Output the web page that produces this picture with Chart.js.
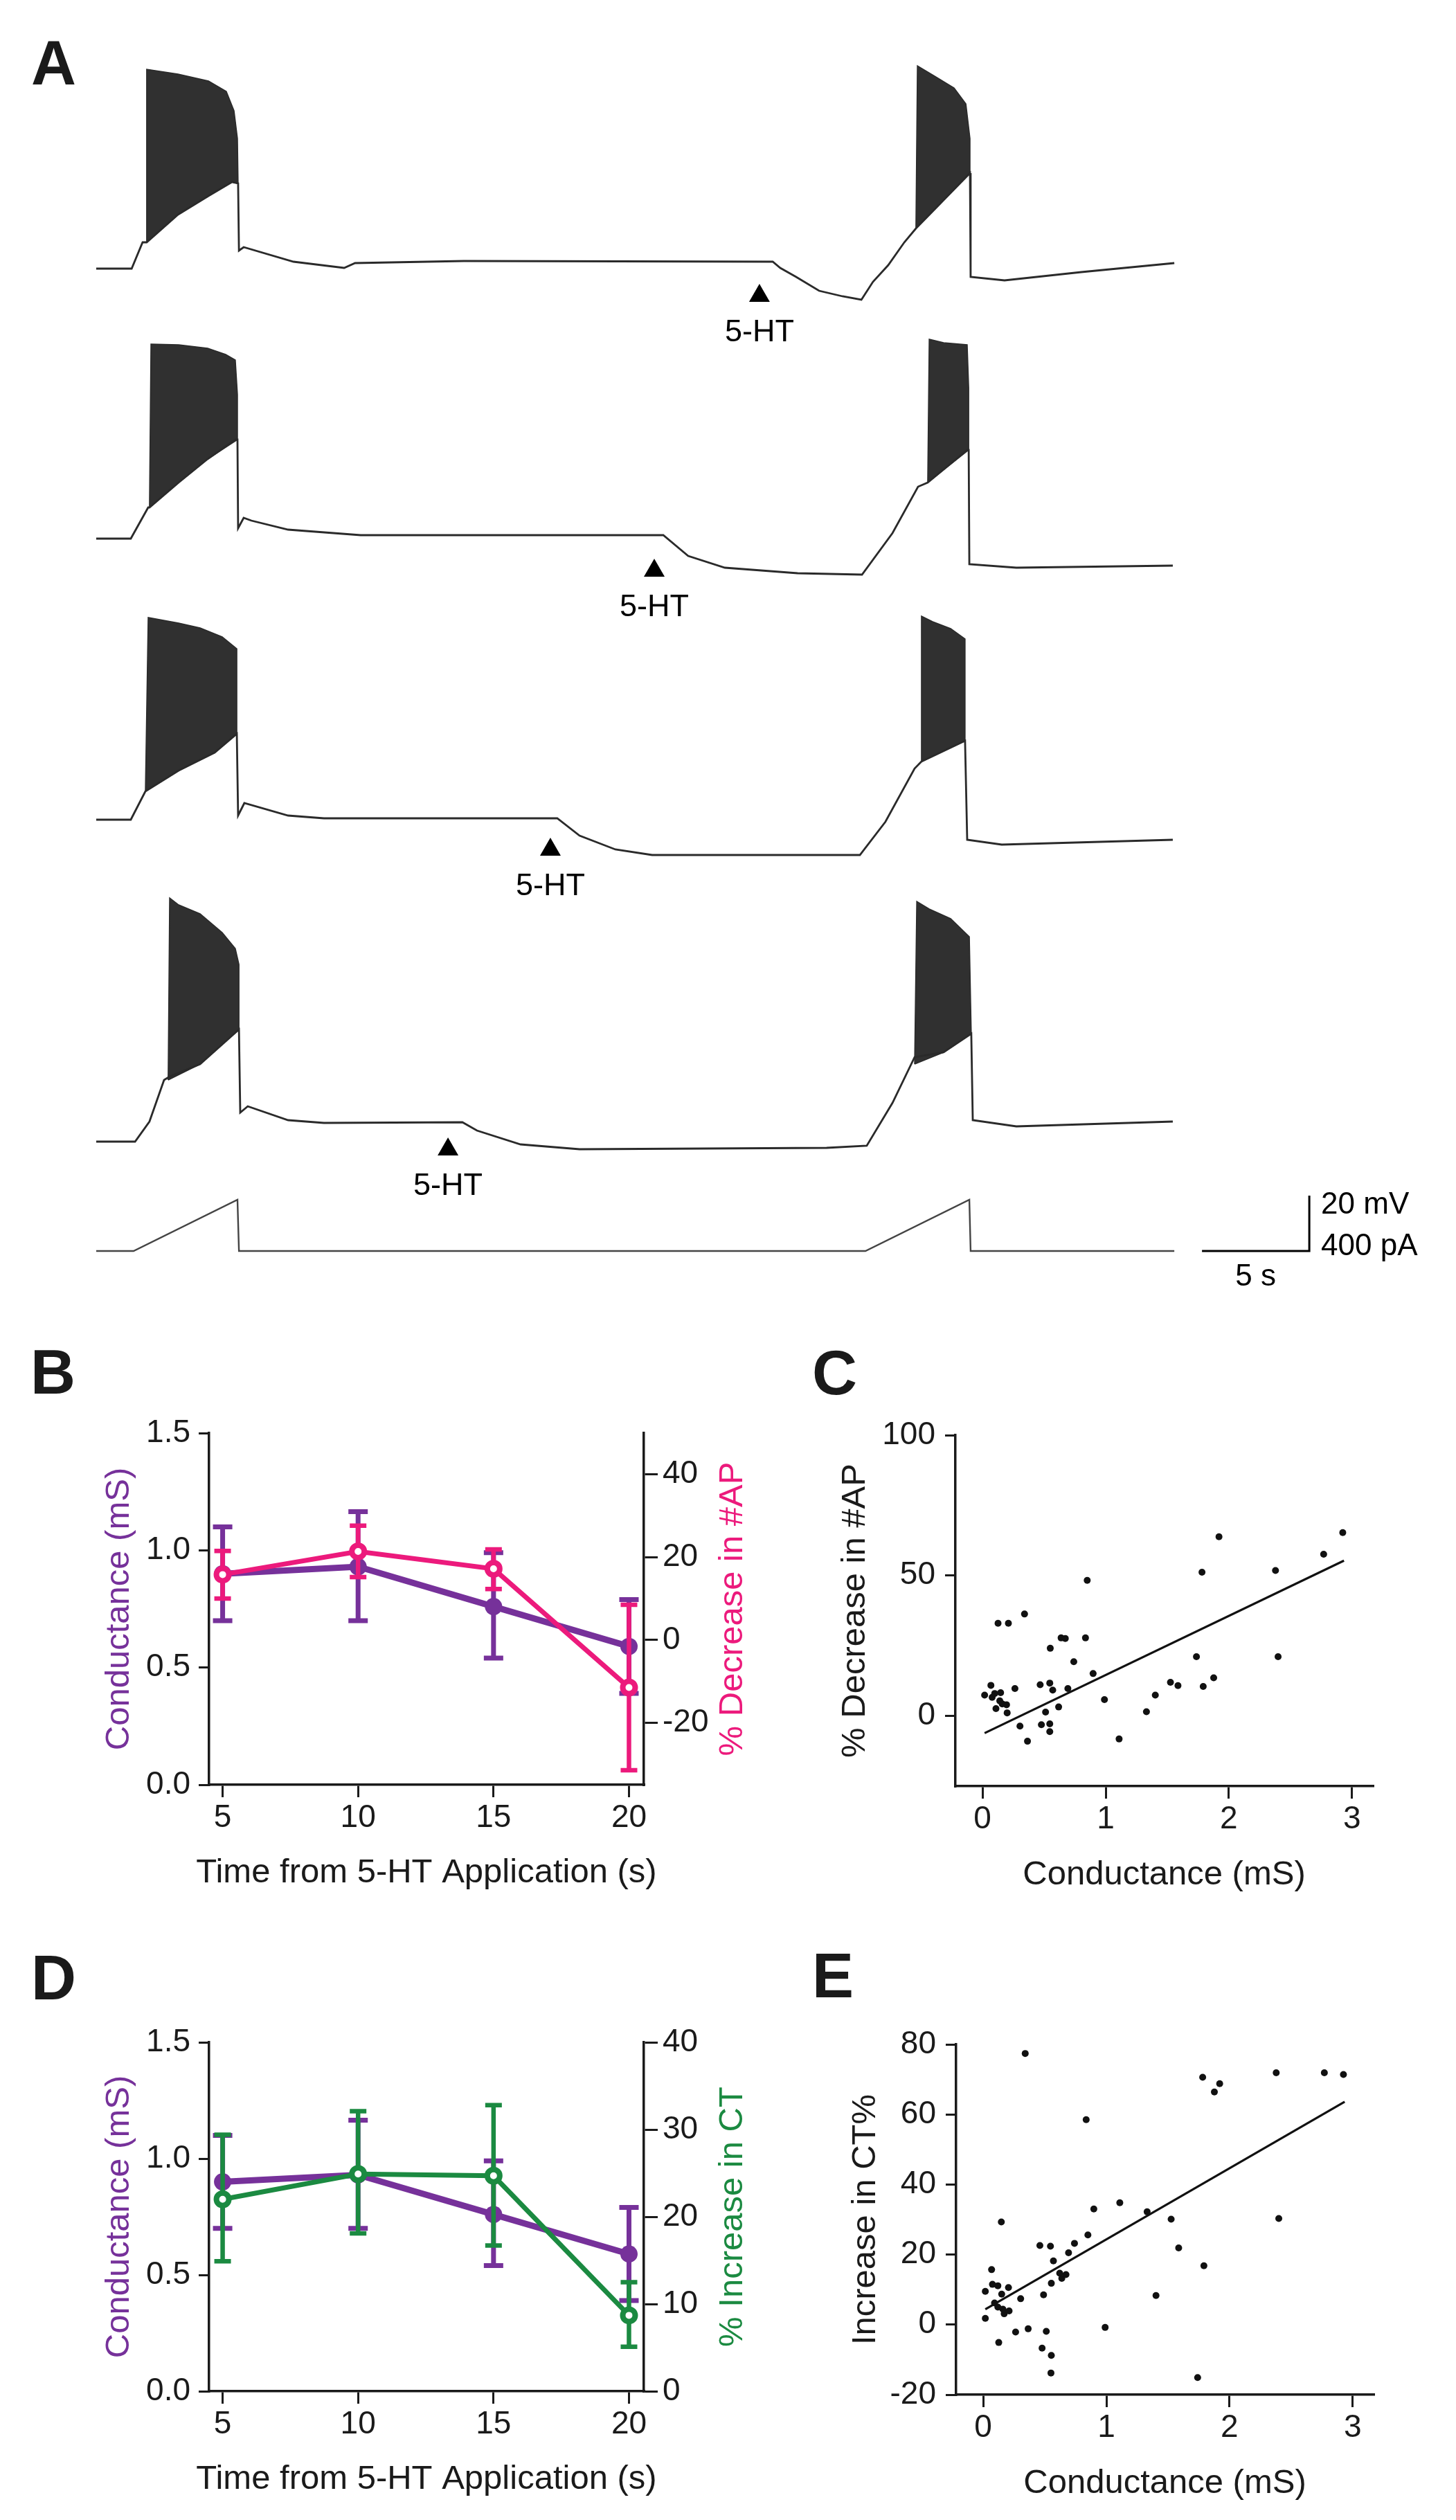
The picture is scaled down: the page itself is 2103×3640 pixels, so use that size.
<!DOCTYPE html>
<html>
<head>
<meta charset="utf-8">
<script src="https://cdn.jsdelivr.net/npm/chart.js@4.4.0/dist/chart.umd.min.js"></script>
<style>
  body { margin: 0; background: #fff; width: 2103px; height: 3640px; position: relative; overflow: hidden; }
  canvas { position: absolute; }
  .panel { position: absolute; font: bold 90px "Liberation Sans", Arial, sans-serif; line-height: 90px; color: #1a1a1a; }
</style>
</head>
<body>
<div class="panel" style="left:45px;top:46px">A</div>
<div class="panel" style="left:44px;top:1937px">B</div>
<div class="panel" style="left:1173px;top:1938px">C</div>
<div class="panel" style="left:45px;top:2812px">D</div>
<div class="panel" style="left:1173px;top:2809px">E</div>
<script>
// ---- panel A: voltage traces, [time s, mV] (20 mV / 5 s bars)
const trace1 = [[0,-60],[1.65,-60],[2.16,-50.5],[2.35,-50.5],[3.81,-40.5],[5.23,-33.75],[6.32,-28.75],[6.61,-29.25],
  [6.65,-53.5],[6.87,-52.25],[9.19,-57.5],[11.55,-59.75],[12.06,-58],[17.13,-57.25],[31.52,-57.5],[31.87,-59.75],
  [32.61,-63],[33.68,-68],[34.77,-70],[35.65,-71.25],[36.19,-64.75],[36.9,-58.75],[37.65,-50.5],[38.19,-45.5],
  [39.45,-35.5],[40.71,-25.5],[40.74,-63],[42.32,-64.25],[45.9,-61.25],[50.23,-58]];
const trace1Burst1 = [[2.35,-50.5],[2.35,12],[3.81,10.25],[5.23,7.75],[6.06,4],[6.42,-3],[6.58,-13],[6.61,-29.25],
  [6.32,-28.75],[5.23,-33.75],[3.81,-40.5],[2.35,-50.5]];
const trace1Burst2 = [[38.19,-45.5],[38.26,13.25],[39.06,9.5],[39.97,5.25],[40.52,-0.5],[40.71,-13],[40.71,-25.5],
  [39.45,-35.5],[38.19,-45.5]];

const trace2 = [[0,-60],[1.61,-60],[2.42,-48.75],[2.48,-48.75],[3.84,-39.75],[5.19,-31.25],[6.48,-24.25],[6.58,-24.25],
  [6.61,-56.25],[6.87,-52.5],[7.23,-53.5],[8.94,-56.75],[12.32,-58.75],[26.42,-58.75],[27.58,-66.25],[29.29,-70.5],
  [32.68,-72.5],[35.68,-73],[37.1,-58],[38.29,-41.25],[38.74,-39.75],[40.58,-28],[40.65,-28],[40.68,-69.25],
  [42.87,-70.5],[50.16,-69.75]];
const trace2Burst1 = [[2.48,-48.75],[2.55,10.25],[3.84,10],[5.19,8.75],[6.03,6.5],[6.48,4.5],[6.58,-8],[6.58,-24.25],
  [5.19,-31.25],[3.84,-39.75],[2.48,-48.75]];
const trace2Burst2 = [[38.74,-39.75],[38.81,12],[39.48,10.75],[40.58,10],[40.65,-5.5],[40.65,-28],[38.74,-39.75]];

const trace3 = [[0,-60],[1.61,-60],[2.29,-49.75],[3.84,-42.25],[5.52,-35.75],[6.55,-29],[6.61,-58.5],[6.9,-54],
  [8.94,-58.5],[10.61,-59.5],[21.48,-59.5],[22.52,-65.75],[24.19,-70.75],[25.9,-72.75],[35.58,-72.75],[36.77,-60.75],
  [38.13,-41.5],[38.45,-39],[40.48,-31.5],[40.58,-67.25],[42.19,-69],[50.16,-67.25]];
const trace3Burst1 = [[2.29,-49.75],[2.42,13],[3.84,11],[4.84,9.25],[5.87,6],[6.55,1.75],[6.55,-29],[5.52,-35.75],
  [3.84,-42.25],[2.29,-49.75]];
const trace3Burst2 = [[38.45,-39],[38.45,13.5],[38.97,11.5],[39.81,9],[40.48,5.25],[40.48,-31.5],[38.45,-39]];

const trace4 = [[0,-60],[1.81,-60],[2.48,-52.75],[3.16,-37.75],[3.42,-36.5],[4.84,-32],[6.65,-19.5],[6.71,-49.5],
  [7.06,-47.25],[8.94,-52.25],[10.61,-53.25],[17.06,-53],[17.74,-56],[19.77,-61],[22.52,-62.75],[34.03,-62.25],
  [35.9,-61.5],[37.1,-46],[38.13,-29.5],[39.48,-27.75],[40.77,-21],[40.84,-52.25],[42.87,-54.5],[50.16,-52.75]];
const trace4Burst1 = [[3.35,-37.75],[3.42,28],[3.84,25.5],[4.84,22.25],[5.87,15.5],[6.48,9.75],[6.65,4],[6.65,-19.5],
  [4.84,-32],[3.35,-37.75]];
const trace4Burst2 = [[38.13,-32],[38.23,26.75],[38.81,24],[39.81,20.5],[40.68,14],[40.77,-21],[39.48,-27.75],[38.13,-32]];

// 5-HT application marks: time (s) and trace level (mV) at the arrow tip
const htTime = [30.9, 26.0, 21.16, 16.39];
const htVm = [-65.5, -67.25, -66.5, -58.5];

// injected current ramp, [time s, pA]
const rampCurrent = [[0,0],[1.74,0],[6.58,370],[6.65,0],[35.84,0],[40.68,370],[40.74,0],[50.23,0]];
const barTime = [51.52, 56.52];   // 5 s
const barCurrent = 400;           // pA (same height as 20 mV)

// ---- panels B and D
const timePoints = [5, 10, 15, 20];
const conductance = [0.90, 0.93, 0.76, 0.59];
const conductanceHi = [1.10, 1.165, 0.99, 0.79];
const conductanceLo = [0.70, 0.70, 0.54, 0.39];
const apDecrease = [15.8, 21.4, 17.2, -11.5];
const apDecreaseHi = [21.5, 27.6, 21.9, 8.5];
const apDecreaseLo = [10.0, 15.2, 12.3, -31.5];
const ctIncrease = [22.0, 24.9, 24.7, 8.7];
const ctIncreaseHi = [29.4, 32.1, 32.8, 12.5];
const ctIncreaseLo = [14.9, 18.1, 16.7, 5.1];

const condTicks = [0, 0.5, 1.0, 1.5];
const apTicks = [-20, 0, 20, 40];
const ctTicks = [0, 10, 20, 30, 40];

// ---- panels C and E
const cCond = [0.017,0.068,0.078,0.099,0.126,0.147,0.14,0.109,0.16,0.195,0.20,0.21,0.263,0.304,0.341,0.365,0.468,0.478,
  0.512,0.546,0.546,0.546,0.55,0.57,0.618,0.638,0.672,0.693,0.741,0.836,0.85,0.898,0.99,1.109,1.331,1.403,1.526,1.587,
  1.737,1.782,1.792,1.877,1.92,2.379,2.40,2.77,2.925];
const cApDecrease = [7.4,10.9,6.6,8.0,33.0,8.3,5.4,2.6,4.3,4.0,1.1,33.0,9.75,-3.6,36.3,-9.0,11.1,-3.1,1.4,11.7,-2.8,-5.6,
  24.1,9.2,3.2,27.8,27.6,9.75,19.3,27.8,48.3,15.1,5.8,-8.2,1.5,7.4,12.0,10.8,21.1,51.2,10.5,13.6,63.8,51.8,21.1,57.6,65.3];
const cFitCond = [0.017, 2.935];
const cFitAp = [-6.1, 55.3];

const eCond = [0.017,0.017,0.068,0.075,0.092,0.119,0.119,0.126,0.147,0.15,0.16,0.17,0.205,0.21,0.263,0.304,0.341,0.365,
  0.46,0.478,0.49,0.512,0.546,0.553,0.55,0.553,0.57,0.621,0.638,0.672,0.693,0.741,0.836,0.85,0.898,0.99,1.109,1.331,
  1.403,1.526,1.587,1.741,1.782,1.792,1.877,1.92,2.379,2.40,2.77,2.925];
const eCtIncrease = [9.5,1.8,15.7,11.5,6.2,11.1,5.0,-5.1,29.3,8.7,4.4,3.1,10.6,3.9,-2.1,7.4,77.4,-1.2,22.6,-6.7,8.5,-1.9,
  22.4,-8.8,-13.8,11.8,18.2,14.7,13.2,14.3,20.5,23.2,58.5,25.6,33.0,-0.8,34.8,32.2,8.3,30.1,21.9,-15.1,70.6,16.8,66.4,
  68.8,71.9,30.3,71.9,71.4];
const eFitCond = [0.017, 2.935];
const eFitCt = [4.4, 63.6];

const condXTicks = [0, 1, 2, 3];
const cYTicks = [0, 50, 100];
const eYTicks = [-20, 0, 20, 40, 60, 80];

// ---- styling
const FONT = '"Liberation Sans", Arial, Helvetica, sans-serif';
const INK = '#1a1a1a';
const TRACE = '#2a2a2a';
const PURPLE = '#76319a';
const PINK = '#ec1a7c';
const GREEN = '#1b8a41';

function makeCanvas(left, top, w, h) {
  const c = document.createElement('canvas');
  c.width = w; c.height = h;
  c.style.left = left + 'px'; c.style.top = top + 'px';
  c.style.width = w + 'px'; c.style.height = h + 'px';
  document.body.appendChild(c);
  return c;
}

const pts = (pairs) => pairs.map(p => ({ x: p[0], y: p[1] }));
const zip = (xs, ys) => xs.map((x, i) => ({ x: x, y: ys[i] }));

// error bars drawn right before their own series
const errorBars = {
  id: 'errorBars',
  beforeDatasetDraw(chart, args) {
    const ds = chart.data.datasets[args.index];
    if (!ds.errHi) return;
    const ys = chart.scales[ds.yAxisID];
    const ctx = chart.ctx;
    ctx.save();
    ctx.strokeStyle = ds.borderColor;
    ctx.lineWidth = ds.errWidth;
    args.meta.data.forEach((pt, i) => {
      const hi = ys.getPixelForValue(ds.errHi[i]);
      const lo = ys.getPixelForValue(ds.errLo[i]);
      ctx.beginPath();
      ctx.moveTo(pt.x, hi); ctx.lineTo(pt.x, lo);
      ctx.moveTo(pt.x - ds.errCap, hi); ctx.lineTo(pt.x + ds.errCap, hi);
      ctx.moveTo(pt.x - ds.errCap, lo); ctx.lineTo(pt.x + ds.errCap, lo);
      ctx.stroke();
    });
    ctx.restore();
  }
};

// axis titles (both vertical ones read bottom to top, as in the figure)
const axisTitles = {
  id: 'axisTitles',
  afterDraw(chart, args, o) {
    const { ctx, chartArea: a } = chart;
    ctx.save();
    ctx.font = '49px ' + FONT;
    ctx.textAlign = 'center';
    ctx.textBaseline = 'middle';
    if (o.bottom) {
      ctx.fillStyle = o.bottom.color;
      ctx.fillText(o.bottom.text, (a.left + a.right) / 2, a.bottom + o.bottom.offset);
    }
    [['left', a.left], ['right', a.right]].forEach(([side, edge]) => {
      const t = o[side];
      if (!t) return;
      ctx.save();
      ctx.translate(side === 'left' ? edge - t.offset : edge + t.offset, (a.top + a.bottom) / 2);
      ctx.rotate(-Math.PI / 2);
      ctx.fillStyle = t.color;
      ctx.fillText(t.text, 0, 0);
      ctx.restore();
    });
    ctx.restore();
  }
};

// 5-HT arrowhead + label, and the scale bar on the current trace
const traceMarks = {
  id: 'traceMarks',
  afterDatasetsDraw(chart, args, o) {
    const { ctx, scales: { x, y } } = chart;
    ctx.save();
    ctx.fillStyle = '#000';
    ctx.font = '45px ' + FONT;
    if (o.arrowTime != null) {
      const px = x.getPixelForValue(o.arrowTime);
      const py = y.getPixelForValue(o.arrowVm);
      ctx.beginPath();
      ctx.moveTo(px, py);
      ctx.lineTo(px + 15, py + 26);
      ctx.lineTo(px - 15, py + 26);
      ctx.closePath();
      ctx.fill();
      ctx.textAlign = 'center';
      ctx.textBaseline = 'alphabetic';
      ctx.fillText('5-HT', px, py + 83);
    }
    if (o.bar) {
      const x0 = x.getPixelForValue(barTime[0]);
      const x1 = x.getPixelForValue(barTime[1]);
      const y0 = y.getPixelForValue(0);
      const y1 = y.getPixelForValue(barCurrent);
      ctx.strokeStyle = '#000';
      ctx.lineWidth = 3;
      ctx.beginPath();
      ctx.moveTo(x0, y0); ctx.lineTo(x1, y0); ctx.lineTo(x1, y1);
      ctx.stroke();
      ctx.font = '44px ' + FONT;
      ctx.textAlign = 'left';
      ctx.textBaseline = 'alphabetic';
      ctx.fillText('20 mV', x1 + 17, y1 + 26);
      ctx.fillText('400 pA', x1 + 17, y0 + 6);
      ctx.textAlign = 'center';
      ctx.fillText('5 s', (x0 + x1) / 2, y0 + 50);
    }
    ctx.restore();
  }
};

function hiddenScales(xMax, yMin, yMax) {
  return {
    x: { type: 'linear', min: 0, max: xMax, display: false },
    y: { type: 'linear', min: yMin, max: yMax, display: false }
  };
}

function traceChart(top, height, bottomPad, datasets, marks, yMin, yMax) {
  return new Chart(makeCanvas(0, top, 2103, height), {
    type: 'line',
    data: { datasets: datasets },
    options: {
      responsive: false, animation: false, events: [],
      layout: { padding: { left: 139, right: 197, top: 0, bottom: bottomPad } },
      scales: hiddenScales(57, yMin, yMax),
      elements: { point: { radius: 0 }, line: { tension: 0 } },
      plugins: { legend: { display: false }, tooltip: { enabled: false }, traceMarks: marks }
    },
    plugins: [traceMarks]
  });
}

function vmSets(line, b1, b2) {
  const burst = (d) => ({ data: pts(d), borderColor: TRACE, backgroundColor: '#303030', borderWidth: 1.5, fill: 'shape' });
  return [
    { data: pts(line), borderColor: TRACE, borderWidth: 2.8, fill: false },
    burst(b1), burst(b2)
  ];
}

// trace rows: -60 mV sits on each row's starting baseline; 4 px per mV
const rows = [
  [trace1, trace1Burst1, trace1Burst2, 388],
  [trace2, trace2Burst1, trace2Burst2, 778],
  [trace3, trace3Burst1, trace3Burst2, 1184],
  [trace4, trace4Burst1, trace4Burst2, 1649]
];
rows.forEach((r, i) => {
  traceChart(r[3] - 380, 500, 0, vmSets(r[0], r[1], r[2]),
    { arrowTime: htTime[i], arrowVm: htVm[i] }, -90, 35);
});

traceChart(1717, 170, 50,
  [{ data: pts(rampCurrent), borderColor: '#444', borderWidth: 2.4, fill: false }],
  { bar: true }, -150, 450);

// ---- axis helpers for B-E
function axis(tickLen, pad) {
  return {
    grid: { drawOnChartArea: false, drawTicks: true, tickLength: tickLen, lineWidth: 3, color: INK },
    border: { display: true, width: 3.5, color: INK },
    ticks: { font: { family: FONT, size: 46 }, color: INK, padding: pad, autoSkip: false, maxRotation: 0 }
  };
}
const setTicks = (values) => (scale) => { scale.ticks = values.map(v => ({ value: v })); };
const setWidth = (w) => (scale) => { scale.width = w; };
const setHeight = (h) => (scale) => { scale.height = h; };

function dualChart(top, height, bottomBox, right) {
  const left = {
    label: 'Conductance (mS)', data: zip(timePoints, conductance), yAxisID: 'yL',
    borderColor: PURPLE, borderWidth: 9, pointRadius: 12.5, pointBackgroundColor: PURPLE, pointBorderWidth: 0,
    errHi: conductanceHi, errLo: conductanceLo, errWidth: 7, errCap: 14, order: 2
  };
  const rightSet = {
    label: right.title, data: zip(timePoints, right.values), yAxisID: 'yR',
    borderColor: right.color, borderWidth: 7, pointRadius: 9, pointBackgroundColor: '#fff',
    pointBorderColor: right.color, pointBorderWidth: 8,
    errHi: right.hi, errLo: right.lo, errWidth: 6.5, errCap: 12, order: 1
  };
  const xAx = axis(18, 3), yL = axis(15, 12), yR = axis(20, 7);
  yL.ticks.callback = (v) => Number(v).toFixed(1);
  return new Chart(makeCanvas(0, top, 1150, height), {
    type: 'line',
    data: { datasets: [rightSet, left] },
    options: {
      responsive: false, animation: false, events: [],
      layout: { padding: { top: 80, left: 0, right: 0, bottom: 0 } },
      elements: { line: { tension: 0 } },
      scales: {
        x: Object.assign(xAx, { type: 'linear', position: 'bottom', min: 4.5, max: 20.55,
          afterBuildTicks: setTicks(timePoints), afterFit: setHeight(bottomBox) }),
        yL: Object.assign(yL, { type: 'linear', position: 'left', min: 0, max: 1.5,
          afterBuildTicks: setTicks(condTicks), afterFit: setWidth(302) }),
        yR: Object.assign(yR, { type: 'linear', position: 'right', min: right.min, max: right.max,
          afterBuildTicks: setTicks(right.ticks), afterFit: setWidth(220) })
      },
      plugins: {
        legend: { display: false }, tooltip: { enabled: false },
        axisTitles: {
          bottom: { text: 'Time from 5-HT Application (s)', color: INK, offset: 127 },
          left: { text: 'Conductance (mS)', color: PURPLE, offset: 130 },
          right: { text: right.title, color: right.color, offset: 128 }
        }
      }
    },
    plugins: [errorBars, axisTitles]
  });
}

dualChart(1990, 780, 192, {
  title: '% Decrease in #AP', color: PINK, values: apDecrease, hi: apDecreaseHi, lo: apDecreaseLo,
  min: -35, max: 50, ticks: apTicks
});
dualChart(2870, 770, 186, {
  title: '% Increase in CT', color: GREEN, values: ctIncrease, hi: ctIncreaseHi, lo: ctIncreaseLo,
  min: 0, max: 40, ticks: ctTicks
});

function scatterChart(top, height, padTop, padRight, yBox, xBox, xs, ys, fitX, fitY, yMin, yMax, yTicks, yTitle, yTitleOffset) {
  const xAx = axis(18, 3), yAx = axis(15, 14);
  return new Chart(makeCanvas(1150, top, 953, height), {
    type: 'scatter',
    data: {
      datasets: [
        { data: zip(xs, ys), pointRadius: 5, pointBackgroundColor: '#111', pointBorderWidth: 0, order: 2 },
        { type: 'line', data: zip(fitX, fitY), borderColor: '#111', borderWidth: 3.2, pointRadius: 0, order: 1 }
      ]
    },
    options: {
      responsive: false, animation: false, events: [],
      layout: { padding: { top: padTop, right: padRight, left: 0, bottom: 0 } },
      scales: {
        x: Object.assign(xAx, { type: 'linear', position: 'bottom', min: -0.22, max: 3.17,
          afterBuildTicks: setTicks(condXTicks), afterFit: setHeight(xBox) }),
        y: Object.assign(yAx, { type: 'linear', position: 'left', min: yMin, max: yMax,
          afterBuildTicks: setTicks(yTicks), afterFit: setWidth(yBox) })
      },
      plugins: {
        legend: { display: false }, tooltip: { enabled: false },
        axisTitles: {
          bottom: { text: 'Conductance (mS)', color: INK, offset: 128 },
          left: { text: yTitle, color: INK, offset: yTitleOffset }
        }
      }
    },
    plugins: [axisTitles]
  });
}

scatterChart(1990, 780, 83, 120, 230, 190, cCond, cApDecrease, cFitCond, cFitAp, -25, 100, cYTicks, '% Decrease in #AP', 145);
scatterChart(2870, 770, 83, 119, 231, 181, eCond, eCtIncrease, eFitCond, eFitCt, -20, 80, eYTicks, 'Increase in CT%', 131);
</script>
</body>
</html>
